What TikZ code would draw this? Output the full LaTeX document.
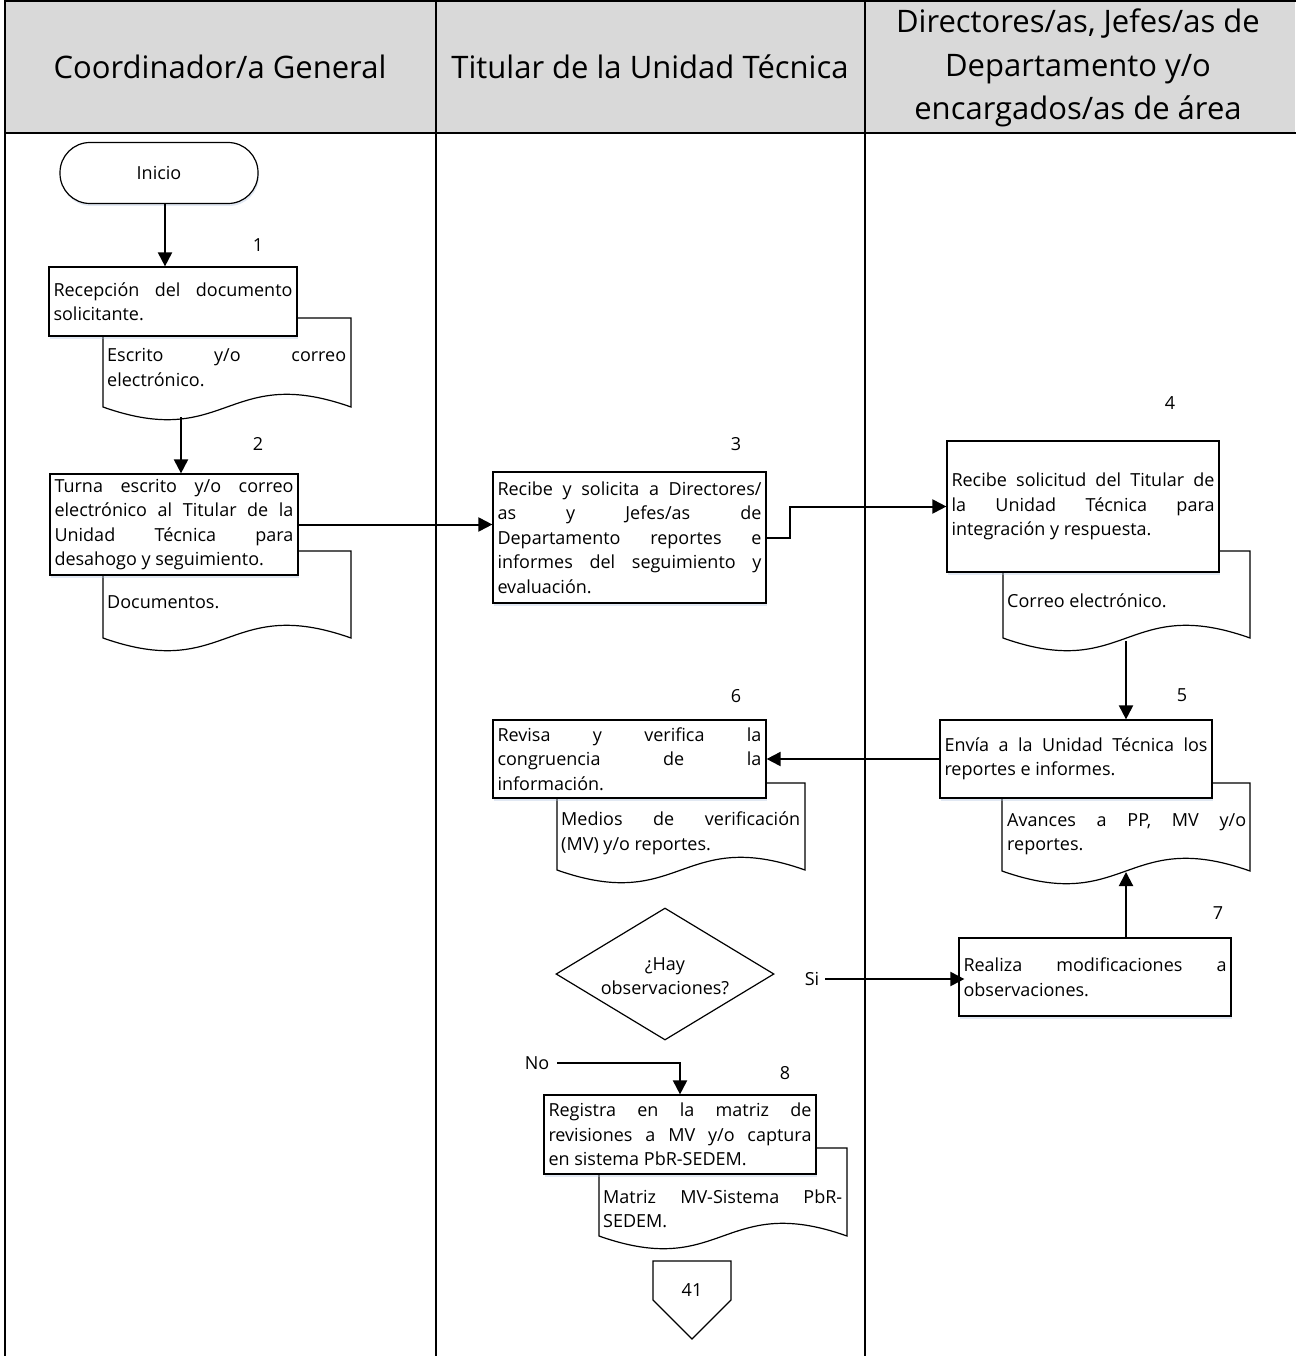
\documentclass[tikz,border=0pt]{standalone}
\usepackage{fontspec}
\setmainfont{Open Sans}
\usetikzlibrary{shapes.geometric,shadows,arrows.meta}
\newcommand{\jl}[1]{#1\linebreak}
\newcommand{\bodyf}{\fontsize{18}{24.5}\selectfont}
\newcommand{\hdrf}{\fontsize{31}{43.5}\selectfont}
\newcommand{\docpath}[4]{\draw[docst] (#1,#3) -- (#2,#3) -- (#2,#4) .. controls ({(#1+#2)/2},{#4-44}) and ({(#1+#2)/2},{#4+44}) .. (#1,#4) -- cycle;}
\definecolor{hdrgray}{RGB}{217,217,217}
\definecolor{shadowblue}{RGB}{170,190,220}
\tikzset{
  lane/.style={line width=2pt, line cap=rect},
  hdr/.style={font=\hdrf, align=center, inner sep=0pt},
  jtext/.style={align=justify, execute at begin node={\tolerance=10000\hbadness=10000\hfuzz=50pt\emergencystretch=0pt\hyphenpenalty=10000}},
  proc/.style={draw, line width=1.2pt, fill=white, inner xsep=4.5pt, inner ysep=0pt, font=\bodyf, jtext,
    drop shadow={shadow xshift=1pt, shadow yshift=-2.5pt, opacity=0.35, fill=shadowblue}},
  docst/.style={draw, line width=1.2pt, fill=white},
  doctxt/.style={font=\bodyf, jtext, inner sep=0pt, anchor=west, text width=239pt},
  num/.style={font=\bodyf, inner sep=0pt},
  lbl/.style={font=\bodyf, inner sep=0pt},
  arr/.style={line width=2pt, -{Triangle[length=14pt,width=14pt]}}
}
\begin{document}
\begin{tikzpicture}[x=1pt,y=-1pt]
\useasboundingbox (0,0) rectangle (1295,1356);
% header
\fill[hdrgray] (5,1) rectangle (1295,133);
\draw[lane] (5,1) -- (1295,1);
\draw[lane] (5,133) -- (1295,133);
\draw[lane] (5,1) -- (5,1356);
\draw[lane] (436,1) -- (436,1356);
\draw[lane] (865,1) -- (865,1356);
\node[hdr] (h1) at (220,67) {Coordinador/a General};
\node[hdr] (h2) at (650,67) {Titular de la Unidad Técnica};
\node[hdr] (h3) at (1078,68) {Directores/as, Jefes/as de\\Departamento y/o\\encargados/as de área};

% documents (behind boxes)
\docpath{103}{351}{318}{407}
\docpath{103}{351}{551}{638}
\docpath{1003}{1250}{551}{638}
\docpath{1002}{1250}{783}{871}
\docpath{557}{805}{783}{870}
\docpath{599}{847}{1148}{1236}
\node[doctxt] (d1) at (107,367.5) {\jl{Escrito y/o correo} electrónico.};
\node[doctxt] (d2) at (107,602) {Documentos.};
\node[doctxt] (d4) at (1007,601) {Correo electrónico.};
\node[doctxt] (d5) at (1007,834) {\jl{Avances a PP, MV y/o} reportes.};
\node[doctxt] (d6) at (561,833.5) {\jl{Medios de verificación} (MV) y/o reportes.};
\node[doctxt] (d8) at (603,1209) {\jl{Matriz MV-Sistema PbR-} SEDEM.};
\coordinate (d1b) at (181,417);
\coordinate (d4b) at (1126,641);
\coordinate (d5b) at (1126,872);

% start
\node[draw, line width=1.2pt, fill=white, rounded corners=30pt, minimum width=198pt, minimum height=61pt, font=\bodyf,
  drop shadow={shadow xshift=1pt, shadow yshift=-2.5pt, opacity=0.35, fill=shadowblue}] (ini) at (159,173) {Inicio};

% process boxes
\node[proc, minimum width=248pt, minimum height=69pt, text width=239pt] (b1) at (173,301.5)
  {\jl{Recepción del documento} solicitante.};
\node[proc, minimum width=248pt, minimum height=101pt, text width=239pt] (b2) at (174,524.5)
  {\jl{Turna escrito y/o correo} \jl{electrónico al Titular de la} \jl{Unidad Técnica para} desahogo y seguimiento.};
\node[proc, minimum width=273pt, minimum height=131pt, text width=264pt] (b3) at (629.5,537.5)
  {\jl{Recibe y solicita a Directores/} \jl{as y Jefes/as de} \jl{Departamento reportes e} \jl{informes del seguimiento y} evaluación.};
\node[proc, minimum width=272pt, minimum height=131pt, text width=263pt] (b4) at (1083,506.5)
  {\jl{Recibe solicitud del Titular de} \jl{la Unidad Técnica para} integración y respuesta.};
\node[proc, minimum width=272pt, minimum height=78pt, text width=263pt] (b5) at (1076,759)
  {\jl{Envía a la Unidad Técnica los} reportes e informes.};
\node[proc, minimum width=273pt, minimum height=78pt, text width=264pt] (b6) at (629.5,759)
  {\jl{Revisa y verifica la} \jl{congruencia de la} información.};
\node[proc, minimum width=272pt, minimum height=78pt, text width=263pt] (b7) at (1095,977)
  {\jl{Realiza modificaciones a} observaciones.};
\node[proc, minimum width=272pt, minimum height=79pt, text width=263pt] (b8) at (680,1134.5)
  {\jl{Registra en la matriz de} \jl{revisiones a MV y/o captura} en sistema PbR-SEDEM.};

% decision
\node[draw, diamond, line width=1.2pt, fill=white, minimum width=218pt, minimum height=132pt, inner sep=0pt] (dec) at (665,974) {};
\node[font=\bodyf, align=center, inner sep=0pt] (dect) at (665,976) {¿Hay\\observaciones?};

% off-page connector
\draw[line width=1.2pt, fill=white] (653,1261) -- (731,1261) -- (731,1300) -- (692,1339) -- (653,1300) -- cycle;
\node[font=\bodyf, inner sep=0pt] (off) at (692,1290) {41};

% step numbers
\node[num] (n1) at (258,245) {1};
\node[num] (n2) at (258,444) {2};
\node[num] (n3) at (736,444) {3};
\node[num] (n4) at (1170,403) {4};
\node[num] (n5) at (1182,695) {5};
\node[num] (n6) at (736,696) {6};
\node[num] (n7) at (1218,913) {7};
\node[num] (n8) at (785,1073) {8};

% labels
\node[lbl] (si) at (812,979) {Si};
\node[lbl] (no) at (537,1063) {No};

% connectors
\draw[arr] ([xshift=6pt]ini.south) -- ([xshift=6pt]ini.south |- b1.north);
\draw[arr] (d1b) -- (d1b |- b2.north);
\draw[arr] (b2.east) -- (b2.east -| b3.west);
\draw[arr] (b3.east) -- ++(23,0) |- (b4.west);
\draw[arr] (d4b) -- (d4b |- b5.north);
\draw[arr] (b5.west) -- (b6.east);
\draw[arr] ([xshift=6pt]si.east) -- ([xshift=6pt]si.east -| b7.west);
\draw[arr] (b7.north -| d5b) -- (d5b);
\draw[arr] ([xshift=8pt]no.east) -| (b8.north);
\end{tikzpicture}
\end{document}
